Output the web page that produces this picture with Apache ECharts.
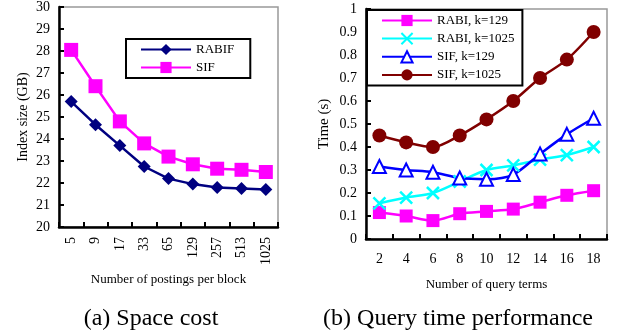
<!DOCTYPE html>
<html>
<head>
<meta charset="utf-8">
<script src="https://cdn.jsdelivr.net/npm/echarts@6/dist/echarts.min.js"></script>
<style>
  html, body { margin: 0; padding: 0; background: #fff; }
  #chart { width: 618px; height: 335px; }
</style>
</head>
<body>
<div id="chart"></div>
<script>
  // (a) space cost
  var blockSizes = ['5', '9', '17', '33', '65', '129', '257', '513', '1025'];
  var rabifSize = [25.7, 24.65, 23.7, 22.75, 22.2, 21.95, 21.8, 21.75, 21.7];
  var sifSize = [28.05, 26.4, 24.8, 23.8, 23.2, 22.85, 22.65, 22.6, 22.5];

  // (b) query time performance
  var queryTerms = ['2', '4', '6', '8', '10', '12', '14', '16', '18'];
  var rabi129 = [0.115, 0.10, 0.08, 0.11, 0.12, 0.13, 0.16, 0.19, 0.21];
  var rabi1025 = [0.155, 0.18, 0.20, 0.25, 0.30, 0.32, 0.345, 0.365, 0.40];
  var sif129 = [0.315, 0.30, 0.29, 0.265, 0.26, 0.28, 0.37, 0.455, 0.525];
  var sif1025 = [0.45, 0.42, 0.40, 0.45, 0.52, 0.60, 0.70, 0.78, 0.90];

  var serif = 'Liberation Serif';
  var chart = echarts.init(document.getElementById('chart'), null, {renderer: 'canvas'});

  function axisLine() {
    return { show: true, lineStyle: { color: '#000', width: 2.5 } };
  }
  function tickIn() {
    return { show: true, inside: true, length: 5, lineStyle: { color: '#000', width: 2 } };
  }

  var option = {
    backgroundColor: '#fff',
    textStyle: { fontFamily: serif, color: '#000' },
    animation: false,
    title: [
      { text: '(a) Space cost', left: 146, top: 302, textAlign: 'center',
        textStyle: { fontFamily: serif, fontSize: 24, fontWeight: 'normal', color: '#000' } },
      { text: '(b) Query time performance', left: 453, top: 302, textAlign: 'center',
        textStyle: { fontFamily: serif, fontSize: 24, fontWeight: 'normal', color: '#000' } }
    ],
    grid: [
      { left: 59, top: 6, width: 219, height: 221, show: true, borderColor: '#999', borderWidth: 1.5 },
      { left: 366, top: 9, width: 241, height: 230, show: true, borderColor: '#999', borderWidth: 1.5 }
    ],
    legend: [
      {
        data: ['RABIF', 'SIF'],
        orient: 'vertical', left: 126, top: 39,
        padding: [4, 16, 4, 14], itemGap: 5,
        itemWidth: 50, itemHeight: 14,
        borderColor: '#000', borderWidth: 2, backgroundColor: '#fff',
        textStyle: { fontFamily: serif, fontSize: 13, color: '#000' }
      },
      {
        data: ['RABI, k=129', 'RABI, k=1025', 'SIF, k=129', 'SIF, k=1025'],
        orient: 'vertical', left: 367, top: 10,
        padding: [4, 8, 4, 14], itemGap: 5,
        itemWidth: 50, itemHeight: 14,
        borderColor: '#000', borderWidth: 2, backgroundColor: '#fff',
        textStyle: { fontFamily: serif, fontSize: 13, color: '#000' }
      }
    ],
    xAxis: [
      {
        gridIndex: 0, type: 'category', data: blockSizes,
        name: 'Number of postings per block', nameLocation: 'middle', nameGap: 45,
        nameTextStyle: { fontFamily: serif, fontSize: 13, color: '#000' },
        axisLine: axisLine(), axisTick: tickIn(),
        axisLabel: { rotate: 90, margin: 10, fontFamily: serif, fontSize: 14, color: '#000' }
      },
      {
        gridIndex: 1, type: 'category', data: queryTerms,
        name: 'Number of query terms', nameLocation: 'middle', nameGap: 39,
        nameTextStyle: { fontFamily: serif, fontSize: 13, color: '#000' },
        axisLine: axisLine(), axisTick: tickIn(),
        axisLabel: { margin: 13, fontFamily: serif, fontSize: 14, color: '#000' }
      }
    ],
    yAxis: [
      {
        gridIndex: 0, type: 'value', min: 20, max: 30, interval: 1,
        name: 'Index size (GB)', nameLocation: 'middle', nameGap: 29,
        nameTextStyle: { fontFamily: serif, fontSize: 14, color: '#000' },
        axisLine: axisLine(), axisTick: tickIn(), splitLine: { show: false },
        axisLabel: { margin: 9, fontFamily: serif, fontSize: 14, color: '#000' }
      },
      {
        gridIndex: 1, type: 'value', min: 0, max: 1, interval: 0.1,
        name: 'Time (s)', nameLocation: 'middle', nameGap: 34,
        nameTextStyle: { fontFamily: serif, fontSize: 15, color: '#000' },
        axisLine: axisLine(), axisTick: tickIn(), splitLine: { show: false },
        axisLabel: { margin: 9, fontFamily: serif, fontSize: 14, color: '#000' }
      }
    ],
    series: [
      {
        name: 'RABIF', type: 'line', xAxisIndex: 0, yAxisIndex: 0, data: rabifSize,
        symbol: 'diamond', symbolSize: 13,
        itemStyle: { color: '#000080' }, lineStyle: { color: '#000080', width: 2.5 }
      },
      {
        name: 'SIF', type: 'line', xAxisIndex: 0, yAxisIndex: 0, data: sifSize,
        symbol: 'rect', symbolSize: 14,
        itemStyle: { color: '#ff00ff' }, lineStyle: { color: '#ff00ff', width: 2.5 }
      },
      {
        name: 'RABI, k=129', type: 'line', xAxisIndex: 1, yAxisIndex: 1, data: rabi129,
        smooth: 0.3, symbol: 'rect', symbolSize: 13,
        itemStyle: { color: '#ff00ff' }, lineStyle: { color: '#ff00ff', width: 2.5 }
      },
      {
        name: 'RABI, k=1025', type: 'line', xAxisIndex: 1, yAxisIndex: 1, data: rabi1025,
        smooth: 0.3, symbol: 'path://M0,0 L10,10 M10,0 L0,10', symbolSize: 12,
        itemStyle: { color: '#00ffff', borderColor: '#00ffff', borderWidth: 2.5 },
        lineStyle: { color: '#00ffff', width: 2.5 }
      },
      {
        name: 'SIF, k=129', type: 'line', xAxisIndex: 1, yAxisIndex: 1, data: sif129,
        smooth: 0.3, symbol: 'triangle', symbolSize: 13,
        itemStyle: { color: '#fff', borderColor: '#0000ff', borderWidth: 2 },
        lineStyle: { color: '#0000ff', width: 2.5 }
      },
      {
        name: 'SIF, k=1025', type: 'line', xAxisIndex: 1, yAxisIndex: 1, data: sif1025,
        smooth: 0.3, symbol: 'circle', symbolSize: 14,
        itemStyle: { color: '#800000' }, lineStyle: { color: '#800000', width: 2.5 }
      }
    ]
  };
  chart.setOption(option);
</script>
</body>
</html>
